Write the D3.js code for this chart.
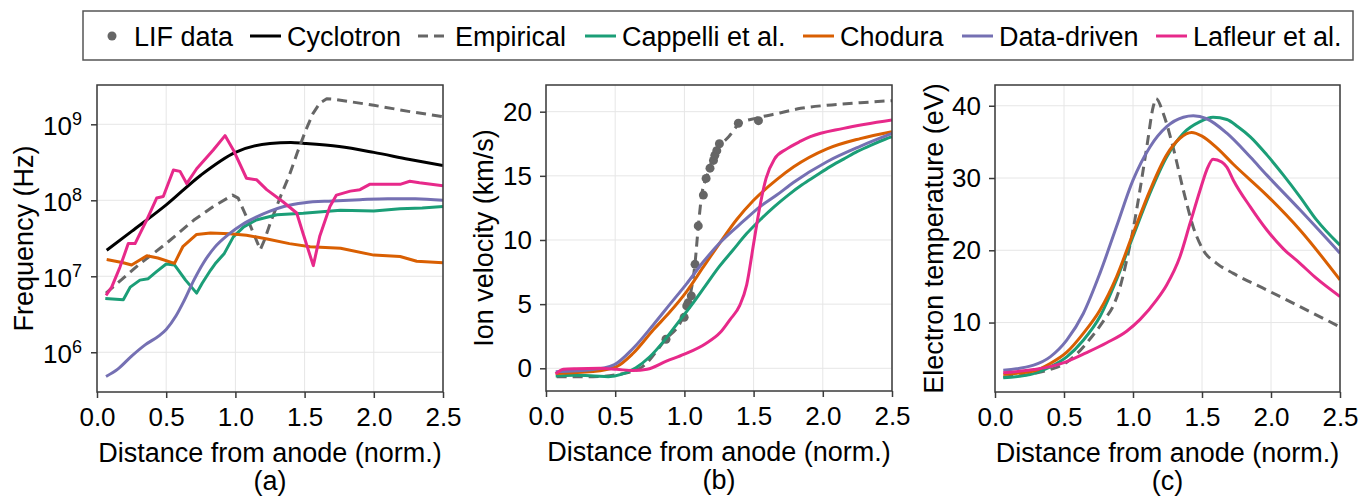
<!DOCTYPE html>
<html>
<head>
<meta charset="utf-8">
<script src="https://cdn.jsdelivr.net/npm/d3@7"></script>
<style>
  body { margin: 0; background: #fff; }
  svg text { font-family: "Liberation Sans", Arimo, Helvetica, Arial, sans-serif; fill: #000; }
</style>
</head>
<body>
<div id="chart"></div>
<script>
// ---------- data ----------
// x = distance from anode (norm.)

// (a) frequency, Hz
var freqCyclotron = [[0.07, 2.2e7], [0.25, 3.9e7], [0.5, 8.7e7], [0.75, 2.14e8], [1.0, 4.27e8], [1.25, 5.6e8],
  [1.4, 5.75e8], [1.5, 5.6e8], [1.75, 5.1e8], [2.0, 4.27e8], [2.25, 3.47e8], [2.5, 2.86e8]];
var freqEmpirical = [[0.065, 6.0e6], [0.3, 1.41e7], [0.5, 2.7e7], [0.7, 5.5e7], [0.85, 8.5e7], [0.98, 1.17e8],
  [1.02, 1.07e8], [1.1, 5.0e7], [1.18, 2.24e7], [1.21, 3.0e7], [1.26, 5.5e7], [1.33, 1.17e8], [1.39, 2.14e8],
  [1.45, 4.37e8], [1.51, 8.5e8], [1.56, 1.38e9], [1.61, 1.9e9], [1.66, 2.17e9], [1.71, 2.14e9],
  [2.0, 1.78e9], [2.25, 1.48e9], [2.5, 1.26e9]];
var freqCappelli = [[0.06, 5.1e6], [0.19, 4.9e6], [0.24, 7.2e6], [0.31, 8.9e6], [0.37, 9.3e6], [0.43, 1.15e7],
  [0.5, 1.45e7], [0.56, 1.41e7], [0.64, 8.9e6], [0.72, 6.0e6], [0.76, 8.1e6], [0.82, 1.2e7], [0.86, 1.51e7],
  [0.92, 2.0e7], [0.985, 3.3e7], [1.06, 4.47e7], [1.15, 5.5e7], [1.3, 6.46e7], [1.49, 6.76e7], [1.76, 7.4e7],
  [2.0, 7.24e7], [2.19, 7.76e7], [2.35, 7.9e7], [2.5, 8.3e7]];
var freqChodura = [[0.07, 1.66e7], [0.19, 1.51e7], [0.25, 1.41e7], [0.36, 1.86e7], [0.44, 1.74e7], [0.56, 1.48e7],
  [0.62, 2.45e7], [0.72, 3.55e7], [0.82, 3.7e7], [0.96, 3.63e7], [1.08, 3.47e7], [1.23, 3.1e7], [1.39, 2.69e7],
  [1.54, 2.45e7], [1.76, 2.34e7], [2.0, 1.9e7], [2.19, 1.82e7], [2.31, 1.58e7], [2.5, 1.51e7]];
var freqDataDriven = [[0.065, 4.8e5], [0.15, 6.0e5], [0.25, 8.9e5], [0.35, 1.26e6], [0.45, 1.66e6], [0.5, 2.0e6],
  [0.57, 3.0e6], [0.63, 4.8e6], [0.7, 8.9e6], [0.77, 1.51e7], [0.85, 2.4e7], [0.95, 3.55e7], [1.05, 4.8e7],
  [1.15, 6.0e7], [1.25, 7.2e7], [1.35, 8.3e7], [1.5, 9.3e7], [1.7, 9.8e7], [1.9, 1.02e8], [2.1, 1.05e8],
  [2.3, 1.05e8], [2.5, 1.0e8]];
var freqLafleur = [[0.065, 5.6e6], [0.106, 7.2e6], [0.166, 1.32e7], [0.226, 2.69e7], [0.275, 2.69e7], [0.359, 5.5e7],
  [0.431, 1.07e8], [0.479, 1.12e8], [0.552, 2.5e8], [0.6, 2.4e8], [0.648, 1.66e8], [0.72, 2.6e8], [0.84, 4.6e8],
  [0.925, 7.1e8], [0.985, 4.6e8], [1.08, 1.95e8], [1.154, 1.86e8], [1.226, 1.38e8], [1.346, 9.5e7], [1.443, 6.8e7],
  [1.49, 3.6e7], [1.563, 1.38e7], [1.61, 3.4e7], [1.683, 8.3e7], [1.73, 1.17e8], [1.83, 1.32e8], [1.9, 1.38e8],
  [1.97, 1.62e8], [2.07, 1.62e8], [2.19, 1.62e8], [2.26, 1.78e8], [2.33, 1.7e8], [2.5, 1.55e8]];

// (b) ion velocity, km/s
var velLIF = [[0.867, 2.26], [0.998, 3.97], [1.017, 4.86], [1.027, 5.1], [1.05, 5.64], [1.077, 8.1], [1.1, 11.1],
  [1.137, 13.5], [1.157, 14.8], [1.185, 15.6], [1.21, 16.2], [1.22, 16.6], [1.234, 16.96], [1.253, 17.5],
  [1.39, 19.1], [1.535, 19.3]];
var velEmpirical = [[0.077, -0.65], [0.34, -0.65], [0.51, -0.5], [0.68, 0.0], [0.86, 2.2], [0.99, 4.0], [1.04, 5.6],
  [1.077, 8.2], [1.1, 11.0], [1.125, 13.5], [1.16, 14.9], [1.2, 16.2], [1.23, 17.0], [1.27, 17.5], [1.32, 18.05],
  [1.4, 19.1], [1.52, 19.5], [1.69, 19.9], [1.84, 20.26], [2.03, 20.5], [2.27, 20.7], [2.5, 20.86]];
var velCappelli = [[0.07, -0.6], [0.2, -0.55], [0.35, -0.6], [0.45, -0.65], [0.55, -0.45], [0.65, 0.05], [0.75, 0.9],
  [0.85, 2.1], [0.95, 3.5], [1.05, 4.9], [1.15, 6.4], [1.25, 7.9], [1.35, 9.2], [1.45, 10.5], [1.55, 11.6],
  [1.65, 12.6], [1.75, 13.5], [1.85, 14.3], [1.95, 15.0], [2.05, 15.7], [2.15, 16.3], [2.25, 16.9], [2.35, 17.4],
  [2.45, 17.85], [2.5, 18.05]];
var velChodura = [[0.07, -0.4], [0.34, -0.26], [0.51, 0.13], [0.63, 1.17], [0.776, 3.0], [0.896, 4.4], [1.017, 6.0],
  [1.137, 7.9], [1.258, 9.8], [1.378, 11.6], [1.5, 13.1], [1.667, 14.7], [1.79, 15.7], [2.03, 17.1], [2.27, 17.9],
  [2.5, 18.44]];
var velDataDriven = [[0.07, -0.26], [0.34, -0.1], [0.49, 0.26], [0.63, 1.56], [0.776, 3.4], [0.896, 5.0], [1.017, 6.6],
  [1.137, 8.3], [1.258, 9.8], [1.43, 11.5], [1.547, 12.6], [1.667, 13.5], [1.79, 14.5], [2.03, 16.1], [2.27, 17.3],
  [2.5, 18.3]];
var velLafleur = [[0.07, -0.44], [0.125, -0.08], [0.22, -0.03], [0.39, 0.0], [0.51, -0.08], [0.63, -0.18], [0.73, -0.08],
  [0.87, 0.55], [1.0, 1.1], [1.15, 1.9], [1.26, 2.8], [1.33, 3.8], [1.4, 4.9], [1.45, 6.5], [1.5, 9.7], [1.54, 12.3],
  [1.59, 14.8], [1.65, 16.3], [1.74, 17.1], [1.84, 17.7], [1.91, 18.05], [2.15, 18.7], [2.5, 19.35]];

// (c) electron temperature, eV
var tempEmpirical = [[0.06, 2.48], [0.28, 2.94], [0.4, 3.5], [0.52, 4.5], [0.6, 5.8], [0.7, 8.0], [0.8, 10.6],
  [0.857, 12.3], [0.9, 14.5], [0.954, 18.6], [1.0, 22.8], [1.05, 28.3], [1.1, 34.3], [1.147, 39.9], [1.167, 41.0],
  [1.22, 38.9], [1.29, 34.3], [1.365, 28.3], [1.437, 23.2], [1.51, 20.0], [1.606, 18.2], [1.727, 16.8], [1.97, 14.5],
  [2.21, 12.2], [2.5, 9.4]];
var tempCappelli = [[0.06, 2.35], [0.28, 2.94], [0.4, 3.87], [0.52, 5.25], [0.64, 7.56], [0.76, 10.8], [0.88, 15.9],
  [1.0, 21.9], [1.123, 27.9], [1.244, 32.9], [1.365, 36.2], [1.486, 37.8], [1.58, 38.4], [1.68, 38.1], [1.76, 37.1],
  [1.85, 35.7], [1.97, 33.2], [2.09, 30.4], [2.21, 27.4], [2.33, 24.2], [2.5, 20.7]];
var tempChodura = [[0.06, 2.85], [0.28, 3.3], [0.4, 4.33], [0.52, 5.9], [0.64, 8.5], [0.76, 11.7], [0.88, 16.3],
  [1.0, 22.3], [1.123, 28.3], [1.244, 33.2], [1.34, 35.5], [1.425, 36.3], [1.5, 35.8], [1.606, 34.2], [1.727, 31.9],
  [1.97, 27.6], [2.21, 22.8], [2.5, 15.9]];
var tempDataDriven = [[0.06, 3.4], [0.28, 4.1], [0.4, 5.25], [0.52, 7.56], [0.64, 11.25], [0.76, 16.8], [0.88, 23.25],
  [1.0, 29.7], [1.123, 34.3], [1.244, 37.1], [1.365, 38.4], [1.437, 38.6], [1.534, 38.2], [1.68, 36.2], [1.85, 32.9],
  [1.97, 30.4], [2.21, 25.6], [2.5, 19.6]];
var tempLafleur = [[0.06, 3.04], [0.28, 3.5], [0.4, 3.9], [0.52, 4.6], [0.66, 5.8], [0.81, 7.2], [0.954, 8.8],
  [1.05, 10.4], [1.17, 13.1], [1.244, 15.2], [1.34, 19.1], [1.413, 23.7], [1.486, 28.3], [1.534, 31.1], [1.58, 32.6],
  [1.643, 32.2], [1.68, 31.5], [1.727, 29.7], [1.85, 26.0], [1.97, 22.8], [2.09, 20.2], [2.21, 18.2], [2.33, 16.1],
  [2.5, 13.6]];

// ticks and labels
var xTicks = [0, 0.5, 1.0, 1.5, 2.0, 2.5];
var freqTicks = [1e6, 1e7, 1e8, 1e9];
var velTicks = [0, 5, 10, 15, 20];
var tempTicks = [10, 20, 30, 40];
var legendNames = ["LIF data", "Cyclotron", "Empirical", "Cappelli et al.", "Chodura", "Data-driven", "Lafleur et al."];
var seriesColors = ["#666666", "#000000", "#666666", "#1b9e77", "#d95f02", "#7570b3", "#e7298a"];

// ---------- canvas ----------
var Width = 1371;
var Height = 497;
var tickFont = 26;
var titleFont = 27;
var dashes = "10,6";

var svg = d3.select("#chart")
  .append("svg")
  .attr("width", Width)
  .attr("height", Height);

// one panel
function drawPanel(p) {
  var g = svg.append("g");
  var x = d3.scaleLinear().domain([0, 2.5]).range([p.left, p.right]);
  var y = (p.log ? d3.scaleLog() : d3.scaleLinear()).domain(p.yDomain).range([p.bottom, p.top]);

  var clipId = "clip" + p.id;
  svg.append("clipPath").attr("id", clipId)
    .append("rect")
    .attr("x", p.left).attr("y", p.top)
    .attr("width", p.right - p.left).attr("height", p.bottom - p.top);

  // grid
  g.selectAll(".gx").data(xTicks).enter().append("line")
    .attr("x1", function(d) { return x(d); }).attr("x2", function(d) { return x(d); })
    .attr("y1", p.top).attr("y2", p.bottom)
    .attr("stroke", "#e6e6e6").attr("stroke-width", 1);
  g.selectAll(".gy").data(p.yTicks).enter().append("line")
    .attr("y1", function(d) { return y(d); }).attr("y2", function(d) { return y(d); })
    .attr("x1", p.left).attr("x2", p.right)
    .attr("stroke", "#e6e6e6").attr("stroke-width", 1);

  var plot = g.append("g").attr("clip-path", "url(#" + clipId + ")");

  // scatter points first
  if (p.points) {
    plot.selectAll("circle").data(p.points).enter().append("circle")
      .attr("cx", function(d) { return x(d[0]); })
      .attr("cy", function(d) { return y(d[1]); })
      .attr("r", 4.5)
      .attr("fill", seriesColors[0]);
  }

  p.series.forEach(function(s) {
    var line = d3.line()
      .x(function(d) { return x(d[0]); })
      .y(function(d) { return y(d[1]); })
      .curve(s.smooth ? d3.curveMonotoneX : d3.curveLinear);
    plot.append("path")
      .datum(s.data)
      .attr("d", line)
      .attr("fill", "none")
      .attr("stroke", seriesColors[s.idx])
      .attr("stroke-width", 3)
      .attr("stroke-linejoin", "round")
      .attr("stroke-dasharray", s.idx === 2 ? dashes : null);
  });

  // frame
  g.append("rect")
    .attr("x", p.left).attr("y", p.top)
    .attr("width", p.right - p.left).attr("height", p.bottom - p.top)
    .attr("fill", "none").attr("stroke", "#3a3a3a").attr("stroke-width", 1.5);

  // axes
  var xAxis = d3.axisBottom(x).tickValues(xTicks).tickSize(6).tickPadding(10)
    .tickFormat(d3.format(".1f"));
  var gx = g.append("g").attr("transform", "translate(0," + p.bottom + ")").call(xAxis);

  var yAxis = d3.axisLeft(y).tickValues(p.yTicks).tickSize(6).tickPadding(p.log ? 9 : 8);
  if (!p.log) yAxis.tickFormat(d3.format("d"));
  var gy = g.append("g").attr("transform", "translate(" + p.left + ",0)").call(yAxis);

  [gx, gy].forEach(function(a) {
    a.select(".domain").remove();
    a.selectAll(".tick line").attr("stroke", "#3a3a3a").attr("stroke-width", 1.5);
    a.selectAll("text").attr("font-size", tickFont).attr("font-family", null).attr("fill", "#000");
  });

  if (p.log) {
    gy.selectAll(".tick text").each(function(d) {
      var t = d3.select(this).text("").attr("dy", "0.41em");
      t.append("tspan").text("10");
      t.append("tspan").attr("dy", -10).attr("font-size", 18).text(Math.round(Math.log10(d)));
    });
  }

  // axis titles
  var cx = (p.left + p.right) / 2;
  g.append("text")
    .attr("x", cx).attr("y", p.bottom + 70)
    .attr("text-anchor", "middle").attr("font-size", titleFont)
    .text("Distance from anode (norm.)");
  g.append("text")
    .attr("x", cx).attr("y", p.bottom + 98)
    .attr("text-anchor", "middle").attr("font-size", titleFont)
    .text(p.tag);
  g.append("text")
    .attr("transform", "translate(" + p.yLabelX + "," + ((p.top + p.bottom) / 2) + ") rotate(-90)")
    .attr("text-anchor", "middle").attr("font-size", titleFont)
    .text(p.yLabel);
}

drawPanel({
  id: "a", left: 97, right: 443, top: 85, bottom: 392,
  log: true, yDomain: [3.0e5, 3.29e9], yTicks: freqTicks,
  yLabel: "Frequency (Hz)", yLabelX: 33, tag: "(a)",
  series: [
    { data: freqCyclotron, idx: 1, smooth: true },
    { data: freqEmpirical, idx: 2, smooth: false },
    { data: freqCappelli, idx: 3, smooth: false },
    { data: freqChodura, idx: 4, smooth: false },
    { data: freqDataDriven, idx: 5, smooth: true },
    { data: freqLafleur, idx: 6, smooth: false }
  ]
});

drawPanel({
  id: "b", left: 546, right: 892, top: 85, bottom: 391,
  log: false, yDomain: [-1.77, 22.08], yTicks: velTicks,
  yLabel: "Ion velocity (km/s)", yLabelX: 493, tag: "(b)",
  points: velLIF,
  series: [
    { data: velEmpirical, idx: 2, smooth: true },
    { data: velCappelli, idx: 3, smooth: true },
    { data: velChodura, idx: 4, smooth: true },
    { data: velDataDriven, idx: 5, smooth: true },
    { data: velLafleur, idx: 6, smooth: true }
  ]
});

drawPanel({
  id: "c", left: 995, right: 1340, top: 85, bottom: 392,
  log: false, yDomain: [0.39, 42.87], yTicks: tempTicks,
  yLabel: "Electron temperature (eV)", yLabelX: 943, tag: "(c)",
  series: [
    { data: tempEmpirical, idx: 2, smooth: true },
    { data: tempCappelli, idx: 3, smooth: true },
    { data: tempChodura, idx: 4, smooth: true },
    { data: tempDataDriven, idx: 5, smooth: true },
    { data: tempLafleur, idx: 6, smooth: true }
  ]
});

// ---------- legend ----------
var legendX = [97, 250, 418, 585, 803, 962, 1156];
var legend = svg.append("g").attr("class", "legend");
legend.append("rect")
  .attr("x", 83).attr("y", 11).attr("width", 1270).attr("height", 49)
  .attr("fill", "#fff").attr("stroke", "#555").attr("stroke-width", 1.5);

legendNames.forEach(function(name, i) {
  var lx = legendX[i];
  if (i === 0) {
    legend.append("circle").attr("cx", lx + 15).attr("cy", 36).attr("r", 4.5).attr("fill", seriesColors[i]);
  } else {
    legend.append("line")
      .attr("x1", lx).attr("x2", lx + 31).attr("y1", 36).attr("y2", 36)
      .attr("stroke", seriesColors[i]).attr("stroke-width", 3)
      .attr("stroke-dasharray", i === 2 ? dashes : null);
  }
  legend.append("text")
    .attr("x", lx + 37).attr("y", 45.5)
    .attr("font-size", titleFont)
    .text(name);
});
</script>
</body>
</html>
